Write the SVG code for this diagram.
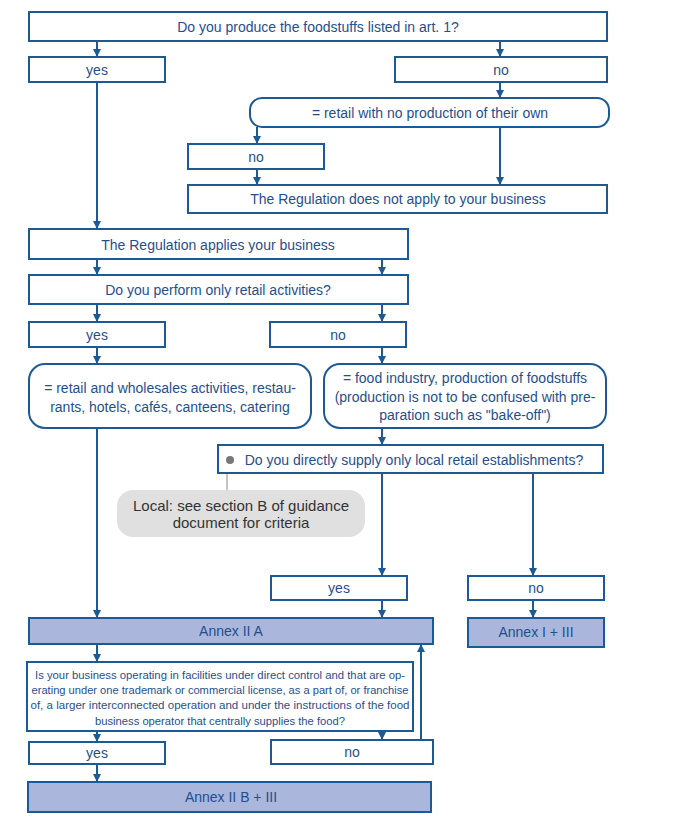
<svg xmlns="http://www.w3.org/2000/svg" width="674" height="836" viewBox="0 0 674 836">
<style>
.b{fill:#fff;stroke:#1c5a96;stroke-width:2}
.a{fill:#aab6dc;stroke:#1c5a96;stroke-width:2}
.t{font-family:"Liberation Sans",Arial,sans-serif;font-size:14px;fill:#1f4f8e;text-anchor:middle}
.s{font-size:11.5px}
.c{font-family:"Liberation Sans",Arial,sans-serif;font-size:15px;fill:#333;text-anchor:middle}
.l{fill:none;stroke:#1c5a96;stroke-width:2;marker-end:url(#ar)}
</style>
<defs>
<marker id="ar" viewBox="0 0 8 8" refX="8" refY="4" markerWidth="4" markerHeight="4" orient="auto" markerUnits="strokeWidth">
<path d="M0,0 L8,4 L0,8 z" fill="#1c5a96"/>
</marker>
</defs>
<rect width="674" height="836" fill="#fff"/>
<g id="connectors">
<path class="l" d="M97,41V57"/>
<path class="l" d="M500,41V57"/>
<path class="l" d="M500,82V98"/>
<path class="l" d="M257,127V144"/>
<path class="l" d="M257,169V185"/>
<path class="l" d="M500,127V185"/>
<path class="l" d="M97,82V229"/>
<path class="l" d="M97,259V275"/>
<path class="l" d="M382,259V275"/>
<path class="l" d="M97,304V322"/>
<path class="l" d="M382,304V322"/>
<path class="l" d="M97,347V364"/>
<path class="l" d="M382,347V364"/>
<path class="l" d="M97,428V618"/>
<path class="l" d="M382,428V445"/>
<path class="l" d="M382,473V576"/>
<path class="l" d="M533,473V576"/>
<path class="l" d="M382,600V618"/>
<path class="l" d="M533,600V618"/>
<path class="l" d="M97,644V662"/>
<path class="l" d="M97,731V742"/>
<path class="l" d="M382,731V740"/>
<path class="l" d="M421,740V644"/>
<path class="l" d="M97,764V782"/>
<path d="M227,460V490" fill="none" stroke="#888" stroke-width="1"/>
</g>
<g id="q1"><rect class="b" x="29" y="12" width="578" height="29"/><text class="t" x="318" y="32">Do you produce the foodstuffs listed in art. 1?</text></g>
<g id="yes1"><rect class="b" x="29" y="57" width="136" height="25"/><text class="t" x="97" y="75">yes</text></g>
<g id="no1"><rect class="b" x="395" y="57" width="212" height="25"/><text class="t" x="501" y="75">no</text></g>
<g id="retail"><rect class="b" x="250" y="98" width="359" height="29" rx="12"/><text class="t" x="430" y="118">= retail with no production of their own</text></g>
<g id="no2"><rect class="b" x="188" y="144" width="136" height="25"/><text class="t" x="256" y="162">no</text></g>
<g id="notapply"><rect class="b" x="188" y="185" width="419" height="28"/><text class="t" x="398" y="204">The Regulation does not apply to your business</text></g>
<g id="applies"><rect class="b" x="29" y="229" width="379" height="30"/><text class="t" x="218" y="250">The Regulation applies your business</text></g>
<g id="q2"><rect class="b" x="29" y="275" width="379" height="29"/><text class="t" x="218" y="295">Do you perform only retail activities?</text></g>
<g id="yes2"><rect class="b" x="29" y="322" width="136" height="25"/><text class="t" x="97" y="340">yes</text></g>
<g id="no3"><rect class="b" x="270" y="322" width="136" height="25"/><text class="t" x="338" y="340">no</text></g>
<g id="retaildef"><rect class="b" x="29" y="364" width="282" height="64" rx="16"/><text class="t" x="170" y="393">= retail and wholesales activities, restau-</text><text class="t" x="170" y="412">rants, hotels, cafés, canteens, catering</text></g>
<g id="industry"><rect class="b" x="324" y="364" width="282" height="64" rx="16"/><text class="t" x="465" y="383">= food industry,  production of foodstuffs</text><text class="t" x="465" y="402">(production is not to be confused with pre-</text><text class="t" x="465" y="420">paration such as "bake-off")</text></g>
<g id="q3"><rect class="b" x="218" y="445" width="385" height="28"/><circle cx="230" cy="460" r="4" fill="#777"/><text class="t" x="414" y="465">Do you directly supply only local retail establishments?</text></g>
<g id="callout"><rect x="117" y="490" width="248" height="47" rx="16" fill="#e0e0e0"/><text class="c" x="241" y="511">Local: see section B of guidance</text><text class="c" x="241" y="528">document for criteria</text></g>
<g id="yes3"><rect class="b" x="271" y="576" width="136" height="24"/><text class="t" x="339" y="593">yes</text></g>
<g id="no4"><rect class="b" x="468" y="576" width="136" height="24"/><text class="t" x="536" y="593">no</text></g>
<g id="annex2a"><rect class="a" x="29" y="618" width="404" height="26"/><text class="t" x="231" y="636">Annex II A</text></g>
<g id="annex13"><rect class="a" x="468" y="618" width="136" height="29"/><text class="t" x="536" y="637">Annex I + III</text></g>
<g id="q4"><rect class="b" x="27" y="662" width="386" height="69"/>
<text class="t s" x="220" y="679" textLength="370" lengthAdjust="spacingAndGlyphs">Is your business operating in facilities under direct control and that are op-</text>
<text class="t s" x="220" y="694" textLength="377" lengthAdjust="spacingAndGlyphs">erating under one trademark or commercial license, as a part of, or franchise</text>
<text class="t s" x="220" y="709" textLength="379" lengthAdjust="spacingAndGlyphs">of,  a larger  interconnected operation and under the instructions of the food</text>
<text class="t s" x="220" y="725" textLength="250" lengthAdjust="spacingAndGlyphs">business operator that centrally supplies the food?</text></g>
<g id="yes4"><rect class="b" x="29" y="742" width="136" height="22"/><text class="t" x="97" y="758">yes</text></g>
<g id="no5"><rect class="b" x="271" y="740" width="162" height="24"/><text class="t" x="352" y="757">no</text></g>
<g id="annex2b"><rect class="a" x="28" y="782" width="403" height="30"/><text class="t" x="231" y="802">Annex II B + III</text></g>
</svg>
